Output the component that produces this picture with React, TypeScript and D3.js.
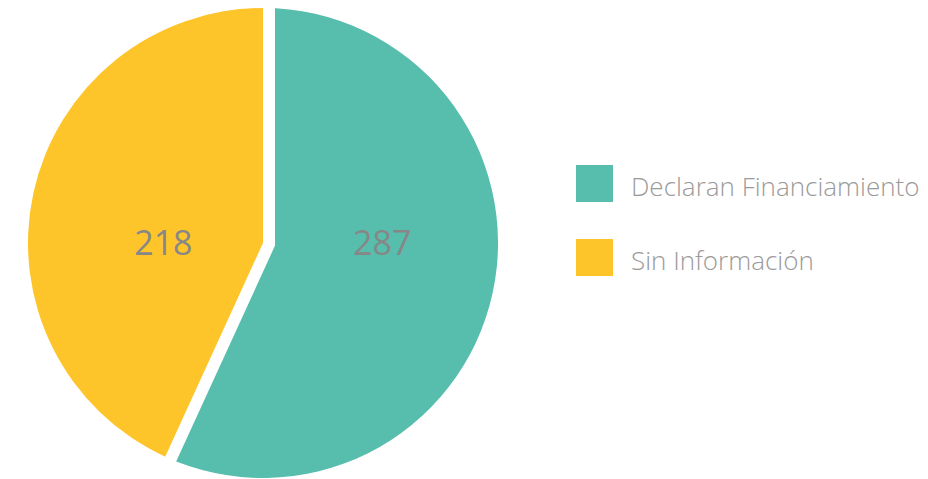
import React from "react";
import * as d3 from "d3";

const categories = ["Declaran Financiamiento", "Sin Información"];
const values = [287, 218];
const colors = ["#57BDAD", "#FEC52B"];

const W = 928;
const H = 479;
const cx = 263;
const cy = 243;
const R = 235;
const gap = 12;
const labelRadius = [122, 102];

export default function App() {
  const pie = d3
    .pie<number>()
    .sort(null)
    .startAngle(0)
    .endAngle(2 * Math.PI);
  const arcs = pie(values);
  const arc = d3.arc<d3.PieArcDatum<number>>().innerRadius(0).outerRadius(R);

  const legendY = d3.scaleBand<string>().domain(categories).range([165, 313]).paddingInner(0);

  return (
    <svg
      width={W}
      height={H}
      style={{ position: "absolute", left: 0, top: 0, background: "#fff" }}
      fontFamily="'Open Sans', sans-serif"
    >
      <g transform={`translate(${cx},${cy})`}>
        <path d={arc(arcs[0]) || ""} fill={colors[0]} />
        <path
          d={arc(arcs[1]) || ""}
          fill={colors[1]}
          stroke="#fff"
          strokeWidth={gap * 2}
          strokeLinejoin="miter"
          style={{ paintOrder: "stroke" }}
        />
        {arcs.map((a, i) => {
          const mid = (a.startAngle + a.endAngle) / 2;
          const x = Math.sin(mid) * labelRadius[i];
          return (
            <text
              key={i}
              x={x}
              y={0}
              dy="0.36em"
              textAnchor="middle"
              fontSize={34}
              fill="#878787"
              fontWeight={400}
            >
              {values[i]}
            </text>
          );
        })}
      </g>
      <g>
        {categories.map((c, i) => {
          const y = legendY(c)!;
          return (
            <g key={c}>
              <rect x={576} y={y} width={37} height={37} fill={colors[i]} />
              <text
                x={631}
                y={y + 31}
                fontSize={26}
                fill="#9a9a9a"
                fontWeight={300}
              >
                {c}
              </text>
            </g>
          );
        })}
      </g>
    </svg>
  );
}
